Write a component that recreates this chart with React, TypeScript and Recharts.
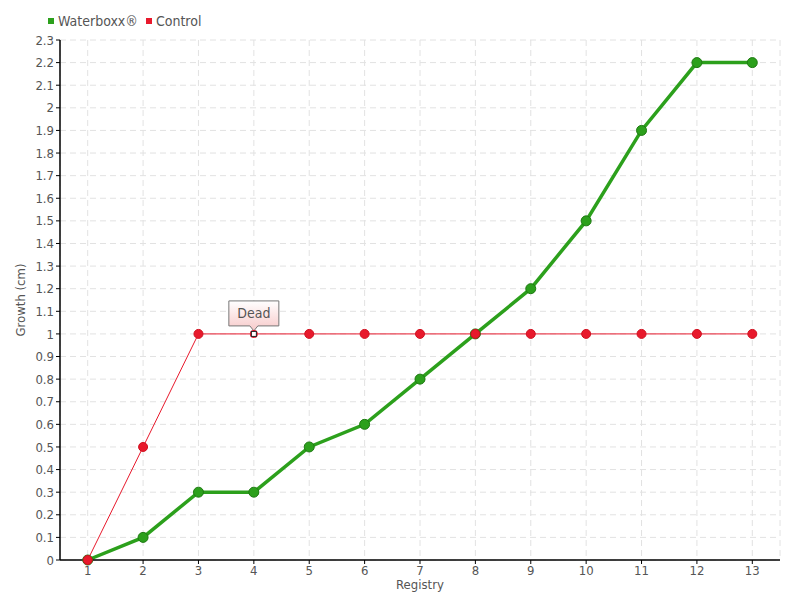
import { CartesianGrid, Line, LineChart, XAxis, YAxis } from "recharts";

const registry = ["1", "2", "3", "4", "5", "6", "7", "8", "9", "10", "11", "12", "13"];
const waterboxx = [0, 0.1, 0.3, 0.3, 0.5, 0.6, 0.8, 1.0, 1.2, 1.5, 1.9, 2.2, 2.2];
const control = [0, 0.5, 1, 1, 1, 1, 1, 1, 1, 1, 1, 1, 1];
const yTicks = Array.from({ length: 24 }, (_, i) => Number((i / 10).toFixed(1)));
const deadIndex = 3;

const data = registry.map((r, i) => ({ r, waterboxx: waterboxx[i], control: control[i] }));

const FONT = "'Liberation Sans Narrow', 'DejaVu Sans Condensed', sans-serif";
const GREEN = "#2ca01c";
const RED = "#e8192c";

const ControlDot = (props: any) => {
  const { cx, cy, index } = props;
  if (index === deadIndex) {
    return (
      <g key={`d${index}`}>
        <defs>
          <linearGradient id="deadFill" x1="0" y1="0" x2="0" y2="1">
            <stop offset="0%" stopColor="#ffffff" />
            <stop offset="100%" stopColor="#f7c9c9" />
          </linearGradient>
        </defs>
        <path
          d={`M${cx - 25},${cy - 33} h50 v25 h-21 l-4,5 l-4,-5 h-21 z`}
          fill="url(#deadFill)"
          stroke="#777"
          strokeWidth={1}
        />
        <text x={cx} y={cy - 16} textAnchor="middle" fontFamily={FONT} fontSize={14} fill="#555">
          Dead
        </text>
        <circle cx={cx} cy={cy} r={4} fill={RED} />
        <rect x={cx - 2.5} y={cy - 2.5} width={5} height={5} fill="#fff" stroke="#222" strokeWidth={1} />
      </g>
    );
  }
  return <circle key={`d${index}`} cx={cx} cy={cy} r={4.5} fill={RED} stroke="#d0101f" strokeWidth={1} />;
};

export default function App() {
  return (
    <div style={{ position: "absolute", left: 0, top: 0, width: 800, height: 600, background: "#fff" }}>
      <div
        style={{
          position: "absolute",
          left: 48,
          top: 13,
          fontFamily: FONT,
          fontSize: 14,
          color: "#555",
          display: "flex",
          alignItems: "center",
          gap: 4,
        }}
      >
        <span style={{ width: 6, height: 6, background: GREEN, display: "inline-block" }} />
        <span>Waterboxx®</span>
        <span style={{ width: 6, height: 6, background: RED, display: "inline-block", marginLeft: 4 }} />
        <span>Control</span>
      </div>
      <LineChart width={800} height={600} data={data} margin={{ top: 40, right: 20, bottom: 0, left: 20 }}>
        <CartesianGrid stroke="#e2e2e2" strokeDasharray="6 4" />
        <XAxis
          dataKey="r"
          height={40}
          padding={{ left: 27.7, right: 27.7 }}
          axisLine={{ stroke: "#000", strokeWidth: 1.5 }}
          tickLine={{ stroke: "#000" }}
          tickSize={4}
          tick={{ fontFamily: FONT, fontSize: 13, fill: "#555" }}
          label={{ value: "Registry", position: "insideBottom", offset: 11, fontFamily: FONT, fontSize: 13, fill: "#555" }}
        />
        <YAxis
          width={40}
          domain={[0, 2.3]}
          ticks={yTicks}
          interval={0}
          axisLine={{ stroke: "#000", strokeWidth: 1.5 }}
          tickLine={{ stroke: "#000" }}
          tickSize={4}
          tick={{ fontFamily: FONT, fontSize: 13, fill: "#555" }}
          tickFormatter={(v: number) => String(Number(v.toFixed(1)))}
          label={{
            value: "Growth (cm)",
            angle: -90,
            position: "insideLeft",
            offset: 0,
            style: { textAnchor: "middle" },
            fontFamily: FONT,
            fontSize: 13,
            fill: "#555",
          }}
        />
        <Line
          dataKey="waterboxx"
          stroke={GREEN}
          strokeWidth={3.5}
          dot={{ r: 5, fill: GREEN, stroke: "#1e7a12", strokeWidth: 1 }}
          isAnimationActive={false}
        />
        <Line
          dataKey="control"
          stroke={RED}
          strokeWidth={1}
          dot={<ControlDot />}
          isAnimationActive={false}
        />
      </LineChart>
    </div>
  );
}
